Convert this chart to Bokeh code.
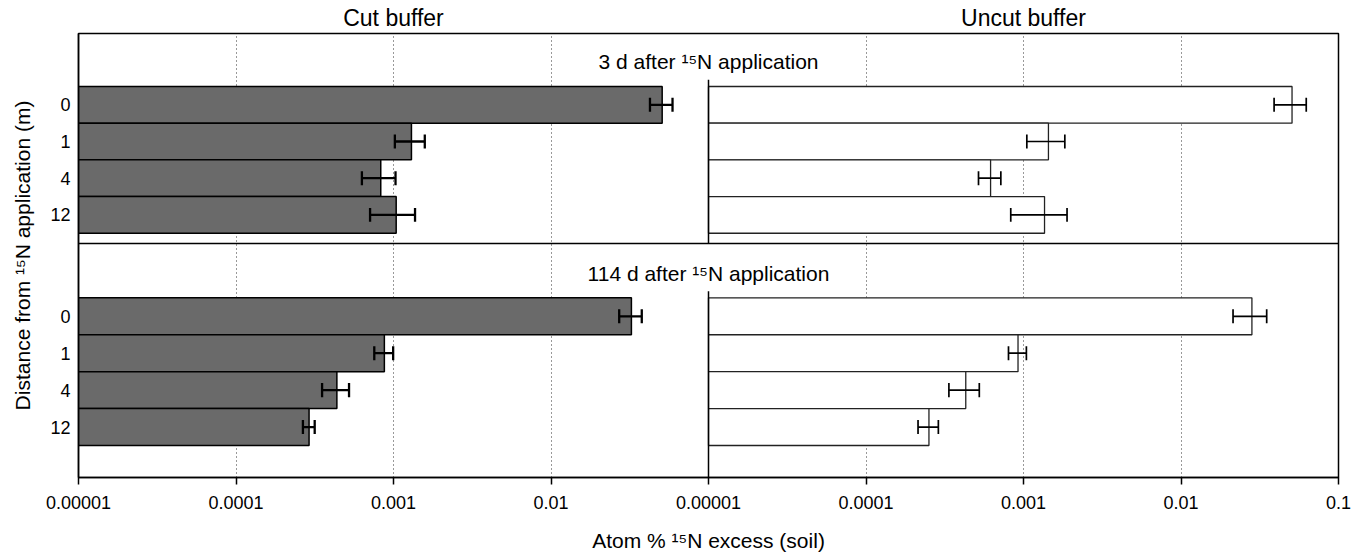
import numpy as np
from bokeh.plotting import figure
from bokeh.plotting.glyph_api import GlyphAPI
from bokeh.models import (Range1d, LogScale, LinearScale, FixedTicker, Label, Span,
                          ColumnDataSource, CoordinateMapping, LinearAxis)
from bokeh.embed import file_html
from bokeh.resources import INLINE

# ---------------- data ----------------
distances = ["0", "1", "4", "12"]
column_titles = ["Cut buffer", "Uncut buffer"]
panel_titles = ["3 d after \u00b9\u2075N application", "114 d after \u00b9\u2075N application"]

cut_3d = [0.0508, 0.00130, 0.00083, 0.00104]
cut_3d_se = [0.0083, 0.00028, 0.00020, 0.00033]
uncut_3d = [0.0507, 0.00144, 0.000618, 0.00136]
uncut_3d_se = [0.0117, 0.00039, 0.00010, 0.00053]

cut_114d = [0.0324, 0.000875, 0.000437, 0.000291]
cut_114d_se = [0.0053, 0.00012, 0.000085, 0.000025]
uncut_114d = [0.0282, 0.000923, 0.000430, 0.000251]
uncut_114d_se = [0.0068, 0.00012, 0.000094, 0.000037]

x_tick_values = [0.00001, 0.0001, 0.001, 0.01, 0.1]
x_tick_labels = ["0.00001", "0.0001", "0.001", "0.01", "0.1"]
X_MIN, X_MAX = 0.00001, 0.1

x_axis_label = "Atom % \u00b9\u2075N excess (soil)"
y_axis_label = "Distance from \u00b9\u2075N application (m)"

# ---------------- style ----------------
FONT = "Liberation Sans"
CUT_FILL = "#6a6a6a"
CAP = 0.19

W, H = 1361, 559
p = figure(width=W, height=H, x_range=Range1d(0, 2), y_range=Range1d(0, 444),
           output_backend="svg", toolbar_location=None,
           min_border_left=78, min_border_right=23, min_border_top=33,
           min_border_bottom=82)
p.outline_line_color = "black"
p.outline_line_width = 1.5
p.background_fill_color = "white"
p.border_fill_color = "white"
p.ygrid.visible = False


def to_parent(v, src, tgt):
    return tgt.start + (v - src.start) / (src.end - src.start) * (tgt.end - tgt.start)


def xpos(v, col):
    return round(col + (np.log10(v) - np.log10(X_MIN)) /
                 (np.log10(X_MAX) - np.log10(X_MIN)), 6)


rows = [
    dict(title=panel_titles[0], target=Range1d(234, 444), source=Range1d(3.78, -1.944),
         series=[(cut_3d, cut_3d_se), (uncut_3d, uncut_3d_se)]),
    dict(title=panel_titles[1], target=Range1d(0, 234), source=Range1d(4.367, -1.972),
         series=[(cut_114d, cut_114d_se), (uncut_114d, uncut_114d_se)]),
]

y_ticks, y_labels = [], {}
for r in rows:
    src_r, tgt_r = r["source"], r["target"]
    for col, (vals, se) in enumerate(r["series"]):
        coords = CoordinateMapping(x_source=Range1d(X_MIN, X_MAX), y_source=src_r,
                                   x_scale=LogScale(), y_scale=LinearScale(),
                                   x_target=Range1d(col, col + 1), y_target=tgt_r)
        sub = GlyphAPI(p, coords)
        idx = list(range(len(distances)))
        cds = ColumnDataSource(dict(
            y=idx,
            left=[X_MIN] * len(vals),
            right=vals,
            lo=[v - s for v, s in zip(vals, se)],
            hi=[v + s for v, s in zip(vals, se)],
            c0=[i - CAP for i in idx],
            c1=[i + CAP for i in idx],
        ))
        if col == 0:
            sub.hbar(y="y", left="left", right="right", height=1, source=cds,
                     fill_color=CUT_FILL, line_color="black", line_width=1.5)
            ew = 2.3
        else:
            sub.hbar(y="y", left="left", right="right", height=1, source=cds,
                     fill_color="white", line_color="#222222", line_width=1.3)
            # divider between the two buffers (starts just above the bars)
            sub.segment(x0=[X_MIN], y0=[src_r.start], x1=[X_MIN], y1=[-0.68],
                        line_color="black", line_width=1.5)
            ew = 1.7
        sub.segment(x0="lo", y0="y", x1="hi", y1="y", source=cds,
                    line_color="black", line_width=ew)
        sub.segment(x0="lo", y0="c0", x1="lo", y1="c1", source=cds,
                    line_color="black", line_width=ew)
        sub.segment(x0="hi", y0="c0", x1="hi", y1="c1", source=cds,
                    line_color="black", line_width=ew)
    for i, lab in enumerate(distances):
        pos = round(to_parent(i, src_r, tgt_r), 4)
        y_ticks.append(pos)
        y_labels[pos] = lab
    p.add_layout(Label(x=1.0, y=to_parent(-1.17, src_r, tgt_r), text=r["title"],
                       text_align="center", text_baseline="middle",
                       text_font=FONT, text_font_size="21px", text_color="black"))

# row separator
p.add_layout(Span(location=rows[1]["target"].end, dimension="width",
                  line_color="black", line_width=1.5))

# x ticks / grid
x_ticks, x_labels, grid_ticks = [], {}, []
for col in (0, 1):
    for v, lab in zip(x_tick_values, x_tick_labels):
        if col == 0 and v == X_MAX:
            continue
        pos = xpos(v, col)
        x_ticks.append(pos)
        x_labels[pos] = lab
        if X_MIN < v < X_MAX:
            grid_ticks.append(pos)

p.xaxis.ticker = FixedTicker(ticks=x_ticks)
p.xaxis.major_label_overrides = x_labels
p.xgrid.ticker = FixedTicker(ticks=grid_ticks)
p.xgrid.grid_line_color = "#333333"
p.xgrid.grid_line_dash = "1 3"
p.xgrid.grid_line_width = 1

p.xaxis.minor_tick_line_color = None
p.xaxis.major_tick_out = 7
p.xaxis.major_tick_in = 0
p.xaxis.major_tick_line_color = "black"
p.xaxis.major_tick_line_width = 1.5
p.xaxis.axis_line_color = "black"
p.xaxis.axis_line_width = 1.5
p.xaxis.major_label_standoff = 11
p.xaxis.major_label_text_font = FONT
p.xaxis.major_label_text_font_size = "18px"
p.xaxis.major_label_text_color = "black"
p.xaxis.axis_label = x_axis_label
p.xaxis.axis_label_standoff = 17
p.xaxis.axis_label_text_font = FONT
p.xaxis.axis_label_text_font_size = "21px"
p.xaxis.axis_label_text_font_style = "normal"
p.xaxis.axis_label_text_color = "black"

p.yaxis.ticker = FixedTicker(ticks=y_ticks)
p.yaxis.major_label_overrides = y_labels
p.yaxis.major_tick_line_color = None
p.yaxis.minor_tick_line_color = None
p.yaxis.major_tick_out = 0
p.yaxis.major_tick_in = 0
p.yaxis.axis_line_color = "black"
p.yaxis.axis_line_width = 1.5
p.yaxis.major_label_standoff = 8
p.yaxis.major_label_text_font = FONT
p.yaxis.major_label_text_font_size = "18px"
p.yaxis.major_label_text_color = "black"
p.yaxis.axis_label = y_axis_label
p.yaxis.axis_label_standoff = 13
p.yaxis.axis_label_text_font = FONT
p.yaxis.axis_label_text_font_size = "21px"
p.yaxis.axis_label_text_font_style = "normal"
p.yaxis.axis_label_text_color = "black"

# column titles above the frame (as labels of a bare top axis)
title_pos = [col + 0.5 for col in range(len(column_titles))]
top_axis = LinearAxis(ticker=FixedTicker(ticks=title_pos),
                      major_label_overrides={pos: t for pos, t in zip(title_pos, column_titles)},
                      axis_line_color=None, major_tick_line_color=None,
                      minor_tick_line_color=None, major_tick_out=0, major_tick_in=0,
                      major_label_standoff=3, major_label_text_font=FONT,
                      major_label_text_font_size="23px", major_label_text_color="black")
p.add_layout(top_axis, "above")

open("out.html", "w").write(file_html(p, INLINE))
